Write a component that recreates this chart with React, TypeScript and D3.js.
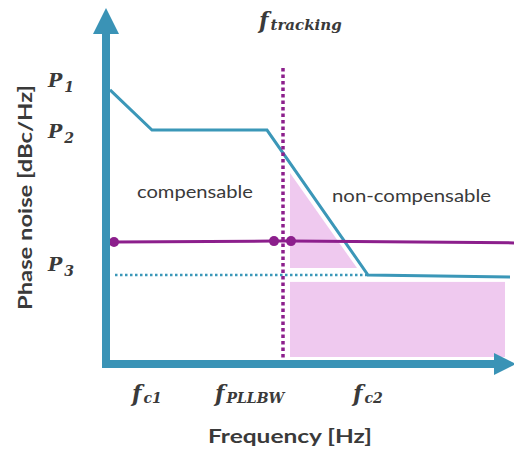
import React from "react";
import * as d3 from "d3";

// Data (arbitrary units)
const curveX = [2, 12.5, 41.25, 66.5, 102];
const curveY = [90.7, 77.3, 77.3, 29, 28.3];
const trackX = [3, 43, 47.25, 103];
const trackY = [40, 40.3, 40.3, 39.7];
const trackDots = [0, 1, 2];
const fTracking = 45.25;
const p3Level = 29;
const triX = [47, 47, 63.75];
const triY = [63, 31.3, 31.3];
const rectX = [47, 100.75];
const rectY = [1.67, 26.7];
const yTicks = [
  { sub: "1", v: 94 },
  { sub: "2", v: 77 },
  { sub: "3", v: 32.7 },
];
const xTicks = [
  { sub: "c1", v: 7.5 },
  { sub: "PLLBW", v: 28.25 },
  { sub: "c2", v: 62.75 },
];

const W = 514;
const H = 453;
const x = d3.scaleLinear().domain([0, 100]).range([102, 502]);
const y = d3.scaleLinear().domain([0, 100]).range([362, 62]);

const BLUE = "#3b97b8";
const AXIS = "#3a93b6";
const PURPLE = "#8c1f8c";
const PINK = "#efc9ef";
const TEXT = "#3a3a3a";
const SERIF = "'DejaVu Serif', 'Liberation Serif', serif";
const SANS = "Lato, 'Open Sans', sans-serif";

export default function App() {
  const line = d3.line<number>().x((_, i) => x(curveX[i])).y((_, i) => y(curveY[i]));
  const tline = d3.line<number>().x((_, i) => x(trackX[i])).y((_, i) => y(trackY[i]));
  const tri = d3.line<number>().x((_, i) => x(triX[i])).y((_, i) => y(triY[i]));
  return (
    <svg width={W} height={H} style={{ position: "absolute", left: 0, top: 0, background: "#fff" }}>
      {/* pink regions */}
      <path d={tri(triX) + "Z"} fill={PINK} />
      <rect
        x={x(rectX[0])}
        y={y(rectY[1])}
        width={x(rectX[1]) - x(rectX[0])}
        height={y(rectY[0]) - y(rectY[1])}
        fill={PINK}
      />
      {/* dotted P3 */}
      <line
        x1={x(3.25)}
        x2={x(66.5)}
        y1={y(p3Level)}
        y2={y(p3Level)}
        stroke={BLUE}
        strokeWidth={2.5}
        strokeDasharray="2.5 2.5"
      />
      {/* blue curve */}
      <path d={line(curveX) || ""} fill="none" stroke={BLUE} strokeWidth={3} />
      {/* purple line */}
      <path d={tline(trackX) || ""} fill="none" stroke={PURPLE} strokeWidth={3} />
      {trackDots.map((i) => (
        <circle key={i} cx={x(trackX[i])} cy={y(trackY[i])} r={5} fill={PURPLE} />
      ))}
      {/* vertical dotted f_tracking */}
      <line
        x1={x(fTracking)}
        x2={x(fTracking)}
        y1={y(98)}
        y2={y(1.3)}
        stroke={PURPLE}
        strokeWidth={3.5}
        strokeDasharray="3.5 3"
      />
      {/* axes */}
      <rect x={102} y={30} width={8} height={338} fill={AXIS} />
      <path d="M106,8 L119,34 L93,34 Z" fill={AXIS} />
      <rect x={102} y={360} width={396} height={8} fill={AXIS} />
      <path d="M516,364 L494,353 L494,375 Z" fill={AXIS} />
      {/* y tick labels */}
      {yTicks.map((t) => (
        <text key={t.sub} x={48} y={y(t.v) + 7} fill={TEXT} fontFamily={SERIF} fontStyle="italic" fontWeight="bold" fontSize={19}>
          P
          <tspan fontSize={14} dy={5} dx={2}>
            {t.sub}
          </tspan>
        </text>
      ))}
      {/* x tick labels */}
      {xTicks.map((t) => (
        <text key={t.sub} x={x(t.v)} y={401} fill={TEXT} fontFamily={SERIF} fontStyle="italic" fontWeight="bold" fontSize={22}>
          f
          <tspan fontSize={14} dy={2} dx={2}>
            {t.sub}
          </tspan>
        </text>
      ))}
      {/* f_tracking title */}
      <text x={259} y={28} fill={TEXT} fontFamily={SERIF} fontStyle="italic" fontWeight="bold" fontSize={22}>
        f
        <tspan fontSize={15} dy={2} dx={2}>
          tracking
        </tspan>
      </text>
      {/* region labels */}
      <text x={137} y={198} fill={TEXT} fontFamily={SANS} fontSize={18} textLength={116} lengthAdjust="spacingAndGlyphs">
        compensable
      </text>
      <text x={332} y={202} fill={TEXT} fontFamily={SANS} fontSize={18} textLength={159} lengthAdjust="spacingAndGlyphs">
        non-compensable
      </text>
      {/* axis titles */}
      <text x={208} y={443} fill={TEXT} fontFamily={SANS} fontWeight="bold" fontSize={19} textLength={164} lengthAdjust="spacingAndGlyphs">
        Frequency [Hz]
      </text>
      <text
        transform="translate(32,310) rotate(-90)"
        fill={TEXT}
        fontFamily={SANS}
        fontWeight="bold"
        fontSize={19}
        textLength={225}
        lengthAdjust="spacingAndGlyphs"
      >
        Phase noise [dBc/Hz]
      </text>
    </svg>
  );
}
